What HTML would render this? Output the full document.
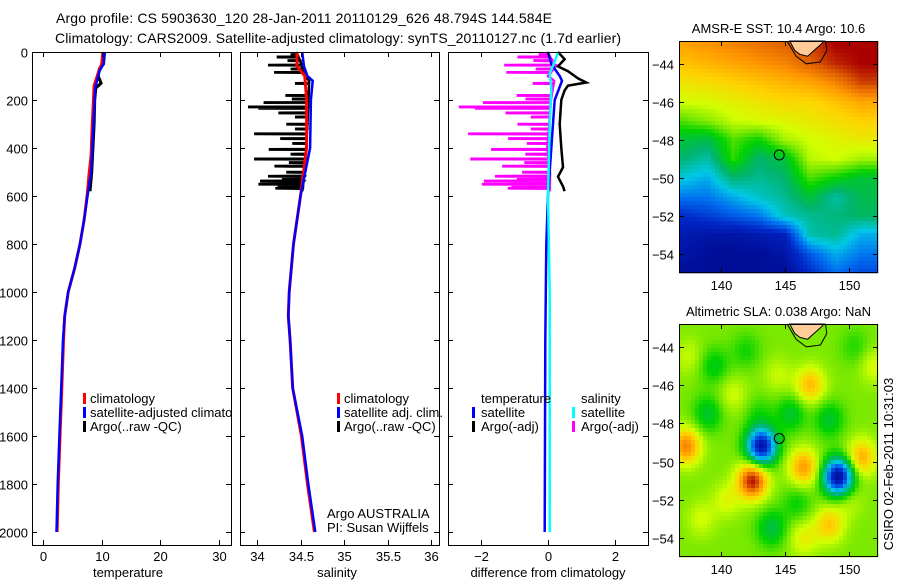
<!DOCTYPE html>
<html><head><meta charset="utf-8">
<style>
html,body{margin:0;padding:0;background:#fff;}
svg{display:block;font-family:"Liberation Sans",Arial,sans-serif;}
text{fill:#000;}
</style></head>
<body>
<svg id="fig" width="900" height="580" viewBox="0 0 900 580" xmlns="http://www.w3.org/2000/svg">
<defs><clipPath id="clip1"><rect x="32" y="52" width="199" height="493"/></clipPath></defs>
<text x="304" y="23" font-size="14" text-anchor="middle" textLength="496">Argo profile: CS 5903630_120 28-Jan-2011 20110129_626 48.794S 144.584E</text>
<text x="338" y="43" font-size="14" text-anchor="middle" textLength="566">Climatology: CARS2009. Satellite-adjusted climatology: synTS_20110127.nc (1.7d earlier)</text>
<g id="maps"></g>
<g id="plots"></g>
</svg>
<script>
// ---------- DATA ----------
const tClimDepth = [0,50,80,140,300,430,520,580,700,800,900,1000,1100,1200,1400,1600,1800,2000];
const tClimVal   = [10.2,10.0,9.5,8.7,8.4,8.2,7.8,7.6,7.0,6.3,5.4,4.3,3.7,3.5,3.2,2.9,2.6,2.4];
const tSatDepth  = [0,50,80,150,300,500,580,700,800,900,1000,1100,1200,1400,1600,1800,2000];
const tSatVal    = [10.5,10.3,9.6,8.9,8.6,8.2,7.7,7.0,6.3,5.4,4.3,3.7,3.4,3.1,2.8,2.5,2.3];
const tArgoDepth = [0,50,70,100,130,150,200,300,400,500,580];
const tArgoVal   = [10.5,10.3,9.6,9.4,9.9,9.0,8.8,8.7,8.5,8.3,8.0];
const sClimDepth = [0,60,100,200,400,600,800,1000,1100,1200,1400,1600,1800,2000];
const sClimVal   = [34.46,34.46,34.55,34.57,34.57,34.5,34.42,34.37,34.36,34.38,34.41,34.51,34.58,34.66];
const sSatDepth  = [0,60,100,120,200,400,600,800,1000,1100,1200,1400,1600,1800,2000];
const sSatVal    = [34.52,34.54,34.58,34.64,34.62,34.61,34.5,34.42,34.37,34.36,34.38,34.41,34.52,34.59,34.67];
const sArgoBaseDepth = [0,40,100,120,300,500,580];
const sArgoBaseVal   = [34.45,34.5,34.55,34.6,34.58,34.55,34.52];
const spikeDepth = [10,20,35,54,70,84,130,180,195,210,228,234,253,270,300,320,340,360,380,405,425,445,460,475,500,517,530,537,550,560,567];
const spikeSal   = [34.4,34.24,34.35,34.14,34.4,34.21,34.45,34.34,34.4,34.09,33.91,34.03,34.26,34.45,34.35,34.45,33.98,34.28,34.42,34.15,34.4,33.98,34.38,34.2,34.35,34.14,34.3,34.05,34.03,34.25,34.21];
const dTSatDepth = [0,50,100,120,200,400,600,800,1200,2000];
const dTSatVal   = [0.0,0.1,0.35,0.42,0.2,0.1,0.0,-0.05,-0.08,-0.1];
const dSSatDepth = [0,40,90,150,300,600,1000,2000];
const dSSatVal   = [0.3,0.2,0.05,0.1,0.05,0.0,0.05,0.05];
const dTArgoDepth = [0,30,60,80,110,127,140,160,200,300,400,480,520,560,580];
const dTArgoVal   = [0.3,0.5,0.3,0.6,0.9,1.15,0.6,0.5,0.4,0.35,0.4,0.45,0.3,0.45,0.5];
const salDiffScale = 4;
const depthTicks = [0,200,400,600,800,1000,1200,1400,1600,1800,2000];
const tTicks = [0,10,20,30];
const sTicks = [34,34.5,35,35.5,36];
const sTickLabels = ["34","34.5","35","35.5","36"];
const dTicks = [-2,0,2];
const latTicks = [-44,-46,-48,-50,-52,-54];
const lonTicks = [140,145,150];
const sstLons = [137,139,141,143,145,147,149,151];
const sstLats = [-43,-44,-45,-46,-47,-48,-49,-50,-51,-52,-53,-54,-55];
const sstGrid = [
[0.84,0.86,0.88,0.9,0.92,0.95,1,1],
[0.8,0.82,0.84,0.86,0.88,0.92,0.97,1],
[0.75,0.76,0.78,0.8,0.82,0.84,0.88,0.95],
[0.7,0.71,0.73,0.75,0.77,0.77,0.8,0.84],
[0.6,0.64,0.69,0.71,0.72,0.74,0.76,0.78],
[0.5,0.48,0.6,0.55,0.66,0.7,0.72,0.74],
[0.45,0.4,0.58,0.45,0.5,0.68,0.7,0.66],
[0.36,0.32,0.45,0.42,0.45,0.6,0.55,0.5],
[0.26,0.26,0.32,0.38,0.42,0.5,0.4,0.48],
[0.15,0.18,0.22,0.26,0.38,0.42,0.44,0.46],
[0.1,0.08,0.08,0.1,0.12,0.4,0.42,0.32],
[0.08,0.05,0.05,0.05,0.08,0.22,0.32,0.26],
[0.05,0.05,0.05,0.05,0.05,0.15,0.25,0.2]];
const slaBase = 0.63;
const blobLon = [143.2,149.2,142.5,137.3,146.5,147,151,148.5,139,145.5,148.5,144,139.5,146.5,152,142,140.5,150.5,137.5,144.5,141,146,150,138.5,143];
const blobLat = [-49.2,-50.8,-51,-49.2,-50.3,-46,-49.8,-53.3,-47.5,-47.5,-47.8,-53.5,-45,-54,-45,-44.2,-52,-44,-44.5,-45.5,-46.5,-52.2,-52,-53,-47.5];
const blobAmp = [-0.55,-0.58,0.36,0.25,0.22,0.18,0.2,0.16,-0.12,-0.12,-0.12,-0.14,-0.1,0.1,0.08,-0.07,0.08,-0.06,0.06,0.06,0.07,-0.08,0.06,0.07,-0.06];
const argoLon = 144.584, argoLat = -48.794;
const tasLon = [145.4,145.8,146.2,146.8,147.3,147.8,148.1];
const tasLat = [-42.8,-43.3,-43.5,-43.6,-43.3,-43.0,-42.8];
const contLon = [145.2,145.9,146.7,147.8,148.3,148.2];
const contLat = [-42.8,-43.6,-44.0,-43.9,-43.3,-42.8];

// ---------- HELPERS ----------
const NS="http://www.w3.org/2000/svg";
function el(tag, attrs, parent){const e=document.createElementNS(NS,tag);for(const k in attrs)e.setAttribute(k,attrs[k]);parent.appendChild(e);return e;}
const plots=document.getElementById('plots');
const maps=document.getElementById('maps');
const Y0=52, YB=545;
const yD = d => Y0 + d*0.24;

function frame(x0,x1,y0,y1,g,name){
  const r=el('rect',{x:x0+0.5,y:y0+0.5,width:x1-x0,height:y1-y0,fill:'none',stroke:'#000','stroke-width':1},g);
  
  
}
function stepLine(depths, vals, xf, color, g, name, w){
  const pts=[];
  for(let i=0;i<depths.length;i++) pts.push(xf(vals[i]).toFixed(1)+','+yD(depths[i]).toFixed(1));
  const p=el('polyline',{points:pts.join(' '),fill:'none',stroke:color,'stroke-width':w||3},g);
  
  
  return p;
}
function interp(ds,vs,d){
  if(d<=ds[0])return vs[0];
  for(let i=1;i<ds.length;i++) if(d<=ds[i]){const t=(d-ds[i-1])/(ds[i]-ds[i-1]);return vs[i-1]+t*(vs[i]-vs[i-1]);}
  return vs[vs.length-1];
}
function yAxis(x0,x1,g,labels){
  depthTicks.forEach(d=>{
    const y=yD(d)+0.5;
    el('line',{x1:x0,y1:y,x2:x0+5,y2:y,stroke:'#000'},g);
    el('line',{x1:x1-5,y1:y,x2:x1,y2:y,stroke:'#000'},g);
    if(labels){const t=el('text',{x:x0-4,y:y+5,'font-size':13,'text-anchor':'end'},g);t.textContent=d;
      
      }
  });
}
function xAxis(ticks,labs,xf,g,name){
  ticks.forEach((v,i)=>{
    const x=Math.round(xf(v))+0.5;
    el('line',{x1:x,y1:Y0,x2:x,y2:Y0+5,stroke:'#000'},g);
    el('line',{x1:x,y1:YB-5,x2:x,y2:YB,stroke:'#000'},g);
    const t=el('text',{x:x,y:561,'font-size':13,'text-anchor':'middle'},g);t.textContent=labs[i];
    
    
  });
}
function label(x,y,txt,g,name,anchor,size){
  const t=el('text',{x:x,y:y,'font-size':size||13,'text-anchor':anchor||'start'},g);t.textContent=txt;
  
  
  return t;
}
function legendMark(x,y,color,g,name){
  const r=el('rect',{x:x,y:y-10,width:3,height:11,fill:color},g);
  
  
}
function spikyLine(baseFn, spikeFn, xf, color, g, name){
  let pts=[];
  for(let d=0; d<=580; d+=4) pts.push([d,baseFn(d)]);
  spikeDepth.forEach((sd,i)=>{const b=baseFn(sd),v=spikeFn(i,sd);
    pts.push([sd-1,b]);pts.push([sd,v]);pts.push([sd+1.5,v]);pts.push([sd+2.5,b]);});
  pts.sort((a,b)=>a[0]-b[0]);
  const p=el('polyline',{points:pts.map(q=>xf(q[1]).toFixed(1)+','+yD(q[0]).toFixed(1)).join(' '),fill:'none',stroke:color,'stroke-width':2.5},g);
  
  
}

// ---------- PANEL 1 ----------
const g1=el('g',{},plots);


const xT = v => 43 + v*5.87;
stepLine(tArgoDepth,tArgoVal,xT,'#000',g1,'argo-temperature-line');
stepLine(tClimDepth,tClimVal,xT,'#ff0000',g1,'climatology-temperature-line');
stepLine(tSatDepth,tSatVal,xT,'#0000ff',g1,'satellite-temperature-line',2.5);
frame(32,231,Y0,YB,g1,'temperature-axes-frame');
yAxis(32,231,g1,true);
xAxis(tTicks,tTicks.map(String),xT,g1,'temperature');
label(128,577,'temperature',g1,'temperature-axis-title','middle');
legendMark(83,403,'#ff0000',g1,'legend-climatology-marker');
label(90,403,'climatology',g1,'legend-climatology');
legendMark(83,417,'#0000ff',g1,'legend-satellite-marker');
const lt=label(90,417,'satellite-adjusted climatology',g1,'legend-satellite-adjusted');
lt.setAttribute('clip-path','url(#clip1)');
legendMark(83,431,'#000',g1,'legend-argo-marker');
label(90,431,'Argo(..raw -QC)',g1,'legend-argo');

// ---------- PANEL 2 ----------
const g2=el('g',{},plots);


const xS = v => 257 + (v-34)*87;
spikyLine(d=>interp(sArgoBaseDepth,sArgoBaseVal,d),(i)=>spikeSal[i],xS,'#000',g2,'argo-salinity-line');
stepLine(sClimDepth,sClimVal,xS,'#ff0000',g2,'climatology-salinity-line');
stepLine(sSatDepth,sSatVal,xS,'#0000ff',g2,'satellite-salinity-line',2.5);
frame(240,439,Y0,YB,g2,'salinity-axes-frame');
yAxis(240,439,g2,false);
xAxis(sTicks,sTickLabels,xS,g2,'salinity');
label(337,577,'salinity',g2,'salinity-axis-title','middle');
legendMark(337,403,'#ff0000',g2,'legend-climatology-marker');
label(344,403,'climatology',g2,'legend-climatology');
legendMark(337,417,'#0000ff',g2,'legend-satellite-marker');
label(344,417,'satellite adj. clim.',g2,'legend-satellite-adjusted');
legendMark(337,431,'#000',g2,'legend-argo-marker');
label(344,431,'Argo(..raw -QC)',g2,'legend-argo');
label(327,518,'Argo AUSTRALIA',g2,'agency-label');
label(327,532,'PI: Susan Wijffels',g2,'pi-label');

// ---------- PANEL 3 ----------
const g3=el('g',{},plots);


const xDf = v => 548 + v*33.3;
spikyLine(d=>(interp(sArgoBaseDepth,sArgoBaseVal,d)-interp(sClimDepth,sClimVal,d))*salDiffScale,
  (i,sd)=>(spikeSal[i]-interp(sClimDepth,sClimVal,sd))*salDiffScale,xDf,'#ff00ff',g3,'argo-salinity-difference-line');
stepLine(dTArgoDepth,dTArgoVal,xDf,'#000',g3,'argo-temperature-difference-line',2.5);
stepLine(dTSatDepth,dTSatVal,xDf,'#0000ff',g3,'satellite-temperature-difference-line',2.5);
stepLine(dSSatDepth,dSSatVal,xDf,'#00ffff',g3,'satellite-salinity-difference-line',2.5);
frame(448,648,Y0,YB,g3,'difference-axes-frame');
yAxis(448,648,g3,false);
xAxis(dTicks,dTicks.map(v=>v===-2?'\u22122':String(v)),xDf,g3,'difference');
label(548,577,'difference from climatology',g3,'difference-axis-title','middle');
label(481,403,'temperature',g3,'legend-temperature-header');
legendMark(472,417,'#0000ff',g3,'legend-temp-satellite-marker');
label(481,417,'satellite',g3,'legend-temp-satellite');
legendMark(472,431,'#000',g3,'legend-temp-argo-marker');
label(481,431,'Argo(-adj)',g3,'legend-temp-argo');
label(581,403,'salinity',g3,'legend-salinity-header');
legendMark(572,417,'#00ffff',g3,'legend-sal-satellite-marker');
label(581,417,'satellite',g3,'legend-sal-satellite');
legendMark(572,431,'#ff00ff',g3,'legend-sal-argo-marker');
label(581,431,'Argo(-adj)',g3,'legend-sal-argo');

// ---------- MAPS ----------
const cmapStops=[[0,[0,0,128]],[0.15,[0,40,200]],[0.25,[0,110,240]],[0.35,[0,200,230]],[0.45,[0,180,110]],[0.55,[0,210,0]],[0.62,[110,230,0]],[0.7,[210,255,0]],[0.78,[255,210,0]],[0.86,[255,150,0]],[0.93,[220,90,0]],[1,[170,0,0]]];
function cmap(v){
  v=Math.max(0,Math.min(1,v));
  for(let i=1;i<cmapStops.length;i++){if(v<=cmapStops[i][0]){const a=cmapStops[i-1],b=cmapStops[i];const t=(v-a[0])/(b[0]-a[0]);
    const c=a[1].map((x,k)=>Math.round(x+t*(b[1][k]-x)));return 'rgb('+c.join(',')+')';}}
  return 'rgb(170,0,0)';
}
function sstAt(lon,lat){
  let fi=(lon-sstLons[0])/2; fi=Math.max(0,Math.min(sstLons.length-1.001,fi));
  let fj=(sstLats[0]-lat); fj=Math.max(0,Math.min(sstLats.length-1.001,fj));
  const i=Math.floor(fi),j=Math.floor(fj),ti=fi-i,tj=fj-j;
  const a=sstGrid[j][i],b=sstGrid[j][i+1],c=sstGrid[j+1][i],d=sstGrid[j+1][i+1];
  return (a*(1-ti)+b*ti)*(1-tj)+(c*(1-ti)+d*ti)*tj;
}
function slaAt(lon,lat){
  let v=slaBase;
  for(let k=0;k<blobLon.length;k++){const dx=(lon-blobLon[k])/1.15,dy=(lat-blobLat[k])/0.95;v+=blobAmp[k]*Math.exp(-(dx*dx+dy*dy));}
  return v;
}
function drawMap(top,bottom,fn,name,title){
  const L=679,R=878;
  const lonMin=136.75,lonMax=152.3,latTop=-42.8,latBot=-55.0;
  const xL=lon=>L+(lon-lonMin)/(lonMax-lonMin)*(R-L);
  const yL=lat=>top+(latTop-lat)/(latTop-latBot)*(bottom-top);
  const g=el('g',{},maps);
  
  
  const cs=4;
  for(let y=top;y<bottom;y+=cs){
    for(let x=L;x<R;x+=cs){
      const lon=lonMin+(x+cs/2-L)/(R-L)*(lonMax-lonMin);
      const lat=latTop-(y+cs/2-top)/(bottom-top)*(latTop-latBot);
      const c=el('rect',{x:x,y:y,width:Math.min(cs,R-x)+0.3,height:Math.min(cs,bottom-y)+0.3,fill:cmap(fn(lon,lat))},g);
      
      
    }
  }
  const land=el('polygon',{points:tasLon.map((lo,i)=>xL(lo).toFixed(1)+','+yL(tasLat[i]).toFixed(1)).join(' '),fill:'#ffcc99',stroke:'#000','stroke-width':1},g);
  
  
  const cont=el('polyline',{points:contLon.map((lo,i)=>xL(lo).toFixed(1)+','+yL(contLat[i]).toFixed(1)).join(' '),fill:'none',stroke:'#000','stroke-width':1},g);
  
  
  const circ=el('circle',{cx:xL(argoLon),cy:yL(argoLat),r:5,fill:'none',stroke:'#000','stroke-width':1},g);
  
  
  const fr=el('rect',{x:L+0.5,y:top+0.5,width:R-L-1,height:bottom-top-1,fill:'none',stroke:'#000'},g);
  
  
  latTicks.forEach(lat=>{const y=Math.round(yL(lat))+0.5;
    el('line',{x1:L,y1:y,x2:L+5,y2:y,stroke:'#000'},g);el('line',{x1:R-5,y1:y,x2:R,y2:y,stroke:'#000'},g);
    label(L-5,y+5,'\u2212'+(-lat),g,'latitude-tick-label','end');});
  lonTicks.forEach(lon=>{const x=Math.round(xL(lon))+0.5;
    el('line',{x1:x,y1:top,x2:x,y2:top+5,stroke:'#000'},g);el('line',{x1:x,y1:bottom-5,x2:x,y2:bottom,stroke:'#000'},g);
    label(x,bottom+17,String(lon),g,'longitude-tick-label','middle');});
  label((L+R)/2,top-8,title,g,name+'-title','middle');
}
drawMap(41,273,sstAt,'sst-map','AMSR-E SST: 10.4  Argo: 10.6');
drawMap(324,557,slaAt,'sla-map','Altimetric SLA: 0.038  Argo: NaN');
const ts=label(0,0,'CSIRO 02-Feb-2011 10:31:03',maps,'timestamp-label','middle');
ts.setAttribute('transform','translate(893,464) rotate(-90)');
</script>
</body></html>
